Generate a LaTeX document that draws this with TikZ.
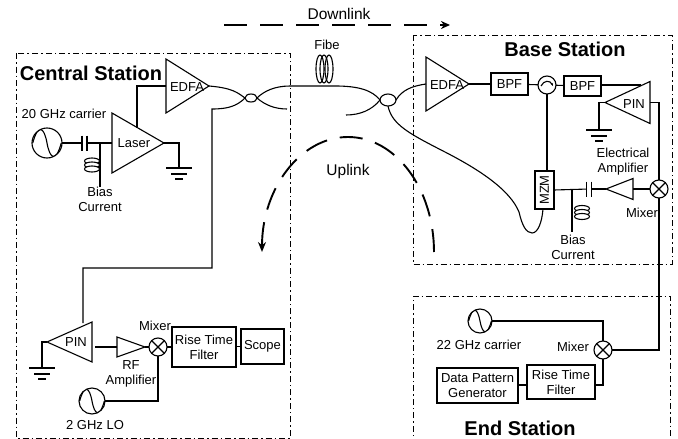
\documentclass[tikz,border=0pt]{standalone}
\usepackage{fontspec}
\setmainfont{Liberation Sans}
\usetikzlibrary{arrows.meta, shapes.geometric}

\tikzset{
	wire/.style={line width=1.1pt},
	station/.style={line width=1pt, dash pattern=on 6pt off 3pt on 1.5pt off 3pt},
	flow/.style={line width=1.9pt, dash pattern=on 23pt off 13pt},
	txt/.style={inner sep=0, font=\fontsize{13}{15}\selectfont, align=center},
	title/.style={inner sep=0, font=\fontsize{20}{22}\selectfont\bfseries},
	amp/.style={draw, line width=1.1pt, isosceles triangle, isosceles triangle stretches,
		inner sep=0, outer sep=0, anchor=lower side},
	ampleft/.style={amp, shape border rotate=180},
	box/.style={draw, line width=1.2pt, inner sep=0, outer sep=0, align=center,
		font=\fontsize{13}{15}\selectfont},
	coupler/.style={draw, line width=1.1pt, ellipse, inner sep=0, outer sep=0},
	mixer/.style={draw, line width=1.1pt, circle, inner sep=0, outer sep=0, minimum size=18,
		path picture={
			\draw (path picture bounding box.north west) -- (path picture bounding box.south east);
			\draw (path picture bounding box.north east) -- (path picture bounding box.south west);
		}},
	source/.style={draw, line width=1.1pt, circle, inner sep=0, outer sep=0, minimum size=2*#1,
		path picture={
			\draw[shift={(path picture bounding box.center)}]
				(-.95*#1,0) .. controls (-.6*#1,-1.3*#1) and (-.2*#1,-1.1*#1) .. (0,0)
				.. controls (.2*#1,1.1*#1) and (.6*#1,1.3*#1) .. (.95*#1,0);
		}},
	circulator/.style={draw, line width=1.1pt, circle, inner sep=0, outer sep=0, minimum size=18,
		path picture={
			\draw[-{Stealth[length=3pt]}, shift={(path picture bounding box.center)}]
				(-6,1) .. controls (-3,-5) and (3,-5) .. (6,1);
		}},
	capacitor/.style={inner sep=0, outer sep=0, minimum width=5, minimum height=15,
		append after command={
			(\tikzlastnode.north west) edge[wire] (\tikzlastnode.south west)
			(\tikzlastnode.north east) edge[wire] (\tikzlastnode.south east)
		}},
}

\newcommand{\gndsym}[1]{%
	\draw[wire] (#1) +(-13,0) -- +(13,0);
	\draw[wire] (#1) +(-8,6) -- +(8,6);
	\draw[wire] (#1) +(-4,11) -- +(4,11);
}
\newcommand{\coilsym}[2]{%
	\foreach \dy in {-4,0,4}
		\draw[wire, fill=white] (#1,#2+\dy) ellipse (7.5 and 3);
}

\begin{document}
\begin{tikzpicture}[x=1pt, y=-1pt]
	\useasboundingbox (0,0) rectangle (678,439);

		%stations
	\draw[station] (16,53) rectangle (290,438);
	\draw[station] (413,35) rectangle (672,264);
	\draw[station] (413,445) -- (413,296) -- (670,296) -- (670,445);
	\node[title] (central) at (91,73) {Central Station};
	\node[title] (base) at (565,49) {Base Station};
	\node[title] (end) at (520,428) {End Station};

		%flow arrows
	\draw[flow, -{Stealth[length=9pt, width=8pt]}] (224,25) -- (450,25);
	\draw[flow, -{Stealth[length=10pt, width=8pt]}] (434,252) arc (0:-180:86 and 115);
	\node[txt, font=\fontsize{15.5}{17}\selectfont] (downlink) at (339,14) {Downlink};
	\node[txt, font=\fontsize{15.5}{17}\selectfont] (uplink) at (348,171) {Uplink};

		%central station, transmit side
	\node[source=15] (carrierA) at (47,143) {};
	\node[txt] at (64,114) {20 GHz carrier};
	\node[capacitor] (capA) at (84.5,143) {};
	\node[amp, minimum width=60, minimum height=52] (laser) at (112,143) {};
	\node[txt] at (134,143) {Laser};
	\node[amp, minimum width=54, minimum height=43] (edfaA) at (166,86) {};
	\node[txt] at (187,87) {EDFA};
	\coordinate (laserTop) at (137,128);
	\coordinate (gndA) at (179,168);
	\coordinate (biasA) at (100,187);
	\coordinate (biasAtop) at (100,143);
	\draw[wire] (carrierA) -- (capA);
	\draw[wire] (capA) -- (laser.lower side);
	\draw[wire] (biasAtop) -- (biasA);
	\coilsym{92}{165}
	\node[txt] (biasAtxt) at (100,199.5) {Bias\\Current};
	\draw[wire] (laser.apex) -| (gndA);
	\gndsym{gndA}
	\draw[wire] (edfaA.lower side) -| (laserTop);

		%fibre link
	\node[coupler, minimum width=12, minimum height=8] (couplerA) at (251,98) {};
	\node[coupler, minimum width=16, minimum height=12] (couplerB) at (388,100) {};
	\coordinate (freeA) at (287,109);
	\coordinate (freeB) at (346,115);
	\coordinate (tapA) at (212,109);
	\coordinate (tapB) at (212,268);
	\coordinate (pinAtop) at (83,323);
	\draw[wire] (edfaA.apex) .. controls (233,88) and (238,93) .. (couplerA.west);
	\draw[wire] (couplerA.east) .. controls (264,91) and (275,86) .. (290,86)
		-- (335,86) .. controls (358,86) and (372,90) .. (couplerB.west);
	\draw[wire] (couplerA.east) .. controls (265,105) and (275,109) .. (freeA);
	\draw[wire] (couplerA.west) .. controls (237,106) and (228,109) .. (tapA) -- (tapB) -| (pinAtop);
	\draw[wire] (couplerB.west) .. controls (372,110) and (360,115) .. (freeB);
	\foreach \x in {320,324,329}
		\draw[wire] (\x,69) ellipse (4 and 14);
	\node[txt] (fibe) at (327,45) {Fibe};

		%central station, receive side
	\node[ampleft, minimum width=40, minimum height=45] (pinA) at (92,342) {};
	\node[txt] at (76,342) {PIN};
	\node[amp, minimum width=20, minimum height=28] (ampC) at (117,347) {};
	\node[mixer] (mixerC) at (158,347) {};
	\node[box, minimum width=64, minimum height=40] (rtfA) at (204,347) {Rise Time\\Filter};
	\node[box, minimum width=43, minimum height=35] (scope) at (262.5,346.5) {Scope};
	\node[source=13] (lo) at (92,401) {};
	\node[txt] at (95,425) {2 GHz LO};
	\node[txt] at (155,326) {Mixer};
	\node[txt] at (131,373.5) {RF\\Amplifier};
	\coordinate (gndB) at (42,368);
	\draw[wire] (pinA.apex) -| (gndB);
	\gndsym{gndB}
	\draw[wire] (ampC.lower side) -- +(-22,0);
	\draw[wire] (ampC.apex) -- (mixerC);
	\draw[wire] (mixerC) -- (mixerC -| rtfA.west);
	\draw[wire] (rtfA.east |- scope) -- (scope);
	\draw[wire] (mixerC) |- (lo);

		%base station
	\node[amp, minimum width=54, minimum height=43] (edfaB) at (426,84) {};
	\node[txt] at (447,85) {EDFA};
	\node[box, minimum width=37, minimum height=22] (bpfA) at (509.5,84) {BPF};
	\node[circulator] (circ) at (547,85) {};
	\node[box, minimum width=37, minimum height=20] (bpfB) at (582.5,86) {BPF};
	\node[ampleft, minimum width=42, minimum height=45] (pinB) at (650,102.5) {};
	\node[txt] at (634,104) {PIN};
	\node[box, minimum width=38, minimum height=19, rotate=90] (mzm) at (544.5,190) {MZM};
	\node[capacitor] (capB) at (589,189) {};
	\node[ampleft, minimum width=21, minimum height=27] (ampB) at (633,189) {};
	\node[mixer] (mixerB) at (659,189) {};
	\node[txt] at (623,162) {Electrical\\Amplifier};
	\node[txt] at (642,213) {Mixer};
	\coordinate (pinBin) at (641,85);
	\coordinate (gndC) at (599,130);
	\coordinate (biasB) at (572,232);
	\coordinate (biasBtop) at (572,189);
	\coordinate (mzmLoop) at (543,209);
	\draw[wire] (couplerB.east) .. controls (402,90) and (412,86) .. (edfaB.lower side);
	\draw[wire] (edfaB.apex) -- (bpfA);
	\draw[wire] (bpfA) -- (circ);
	\draw[wire] (circ) -- (bpfB);
	\draw[wire] (bpfB.east |- pinBin) -- (pinBin);
	\draw[wire] (pinB.apex) -| (gndC);
	\gndsym{gndC}
	\draw[wire] (pinB.lower side) -| (mixerB.north);
	\draw[wire] (circ) -- (circ |- mzm.east);
	\draw[wire] (couplerB.south) .. controls (392,125) and (410,134) .. (445,152)
		.. controls (480,170) and (510,190) .. (519,212)
		.. controls (522,225) and (526,233) .. (532,233)
		.. controls (538,233) and (542,222) .. (mzmLoop);
	\draw[wire] (mzm.south) -- (capB);
	\draw[wire] (capB) -- (ampB.apex);
	\draw[wire] (ampB.lower side) -- (mixerB);
	\draw[wire] (biasBtop) -- (biasB);
	\coilsym{582}{212.5}
	\node[txt] (biasBtxt) at (573,247) {Bias\\Current};

		%end station
	\node[source=12] (carrierB) at (480,321) {};
	\node[txt] at (479,345) {22 GHz carrier};
	\node[txt] at (573,347) {Mixer};
	\node[mixer] (mixerD) at (603,350) {};
	\node[box, minimum width=68, minimum height=34] (rtfB) at (561,382) {Rise Time\\Filter};
	\node[box, minimum width=81, minimum height=35] (data) at (477.5,385.5) {Data Pattern\\Generator};
	\coordinate (rtfBout) at (595,385);
	\coordinate (rtfBin) at (527,385);
	\coordinate (dataOut) at (518,385);
	\draw[wire] (carrierB) -| (mixerD);
	\draw[wire] (mixerB.south) |- (mixerD.east);
	\draw[wire] (mixerD) |- (rtfBout);
	\draw[wire] (dataOut) -- (rtfBin);
\end{tikzpicture}
\end{document}
